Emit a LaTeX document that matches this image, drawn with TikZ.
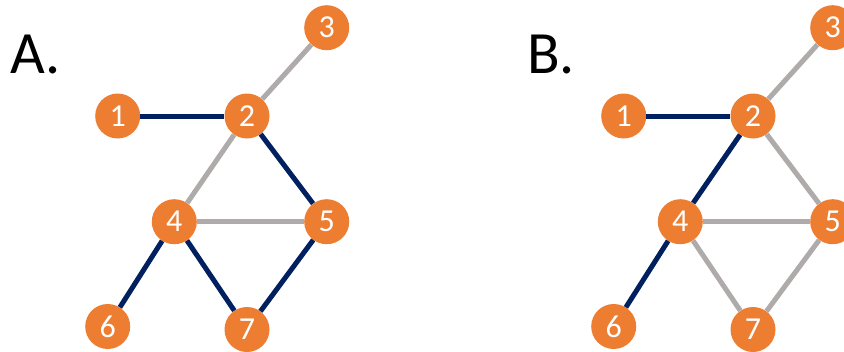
\documentclass[tikz,border=0pt]{standalone}
\usepackage{fontspec}
\setmainfont{Carlito}
\definecolor{nodeor}{HTML}{ED7D31}
\definecolor{navy}{HTML}{002060}
\definecolor{edgegray}{HTML}{AFABAB}
\begin{document}
\begin{tikzpicture}[x=1pt,y=-1pt,
  vert/.style={circle,fill=nodeor,draw=none,minimum size=45pt,inner sep=0pt,text=white,font=\fontsize{32}{32}\selectfont},
  strong/.style={draw=navy,line width=5pt},
  weak/.style={draw=edgegray,line width=5pt},
  panellabel/.style={anchor=base west,inner sep=0pt,font=\fontsize{60}{60}\selectfont}]
\clip (0,0) rectangle (844,351);
\fill[white] (0,0) rectangle (844,351);
% Panel A
\node[panellabel] (la) at (10,73) {A.};
\node[vert] (a1) at (117.7,116) {1};
\node[vert] (a2) at (247,116) {2};
\node[vert] (a3) at (326.7,27.7) {3};
\node[vert] (a4) at (174.3,221.7) {4};
\node[vert] (a5) at (326.7,221.7) {5};
\node[vert] (a6) at (107.7,326.5) {6};
\node[vert] (a7) at (247,329.5) {7};
% Panel B
\node[panellabel] (lb) at (527,73) {B.};
\node[vert] (b1) at (623.7,116) {1};
\node[vert] (b2) at (753,116) {2};
\node[vert] (b3) at (832.7,27.7) {3};
\node[vert] (b4) at (680.3,221.7) {4};
\node[vert] (b5) at (832.7,221.7) {5};
\node[vert] (b6) at (613.7,326.5) {6};
\node[vert] (b7) at (753,329.5) {7};
% edges A
\path[strong] (a1) -- (a2);
\path[weak] (a2) -- (a3);
\path[weak] (a2) -- (a4);
\path[strong] (a2) -- (a5);
\path[weak] (a4) -- (a5);
\path[strong] (a4) -- (a6);
\path[strong] (a4) -- (a7);
\path[strong] (a5) -- (a7);
% edges B
\path[strong] (b1) -- (b2);
\path[weak] (b2) -- (b3);
\path[strong] (b2) -- (b4);
\path[weak] (b2) -- (b5);
\path[weak] (b4) -- (b5);
\path[strong] (b4) -- (b6);
\path[weak] (b4) -- (b7);
\path[weak] (b5) -- (b7);
\end{tikzpicture}
\end{document}
